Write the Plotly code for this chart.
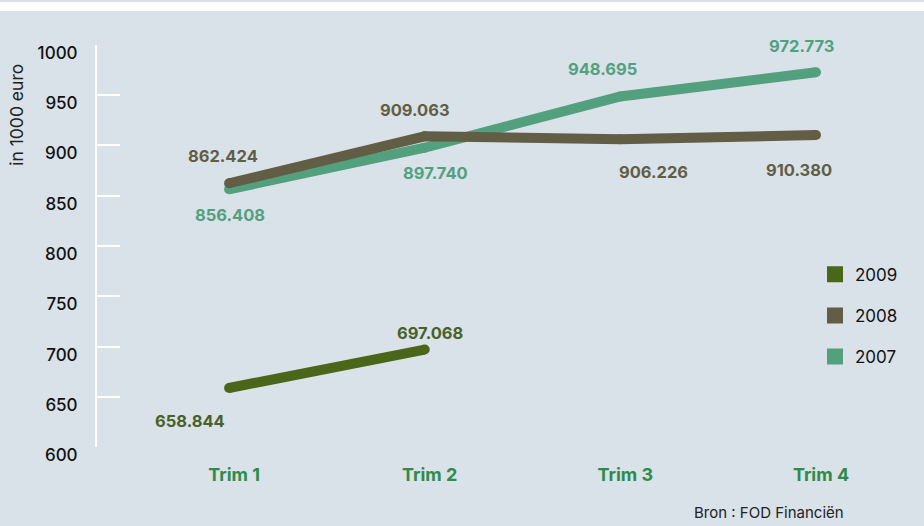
import plotly.graph_objects as go

quarters = ["Trim 1", "Trim 2", "Trim 3", "Trim 4"]
years = ["2007", "2008", "2009"]
values_2007 = [856.408, 897.740, 948.695, 972.773]
values_2008 = [862.424, 909.063, 906.226, 910.380]
values_2009 = [658.844, 697.068]
y_ticks = [600, 650, 700, 750, 800, 850, 900, 950, 1000]

series = {"2007": values_2007, "2008": values_2008, "2009": values_2009}
colors = {"2007": "#53a07f", "2008": "#625d45", "2009": "#4a6619"}
label_colors = {"2007": "#53a07f", "2008": "#625d45", "2009": "#48602a"}
# label offsets in reference pixels (dx, dy) per point
offsets = {
    "2007": [(1, 25), (11, 24), (-18, -27), (-15, -25)],
    "2008": [(-6, -26), (-10, -25), (33, 32), (-17, 34)],
    "2009": [(-39, 32), (5, -16)],
}

W = 924
REF_H = 526
H = 545
S = H / REF_H  # vertical pixel scale
BG = "#d9e2e9"
fig = go.Figure()

for yr in years:
    vals = series[yr]
    fig.add_trace(go.Scatter(
        x=quarters[:len(vals)], y=vals, mode="lines+markers",
        line=dict(color=colors[yr], width=10),
        marker=dict(color=colors[yr], size=10),
        showlegend=False, hoverinfo="skip", cliponaxis=False,
    ))

for yr in ["2009", "2008", "2007"]:
    fig.add_trace(go.Scatter(
        x=[None], y=[None], mode="markers", name=yr,
        marker=dict(symbol="square", size=22, color=colors[yr]),
        legendgroup=yr, showlegend=True,
    ))

annotations = []
for yr in years:
    for q, v, (dx, dy) in zip(quarters, series[yr], offsets[yr]):
        annotations.append(dict(
            x=q, y=v, xref="x", yref="y", text=f"{v:.3f}",
            showarrow=False, xshift=dx, yshift=-dy * S,
            font=dict(family="Inter", size=16.5, color=label_colors[yr], weight="bold"),
        ))

annotations.append(dict(
    x=17 / W, y=1 - 113 / REF_H, xref="paper", yref="paper", text="in 1000 euro",
    textangle=-90, showarrow=False, xanchor="center", yanchor="middle",
    font=dict(family="Inter", size=17.5, color="#222222"),
))
annotations.append(dict(
    x=846 / W, y=1 - 511 / REF_H, xref="paper", yref="paper", text="Bron : FOD Financiën",
    showarrow=False, xanchor="right", yanchor="middle",
    font=dict(family="Inter", size=15, color="#222222"),
))

fig.update_layout(
    width=W, height=H, autosize=False,
    margin=dict(l=0, r=0, t=0, b=0),
    paper_bgcolor=BG, plot_bgcolor="rgba(0,0,0,0)",
    shapes=[dict(type="rect", xref="paper", yref="paper", x0=0, x1=1,
                 y0=1 - 9 / REF_H, y1=1, fillcolor="white", line=dict(width=0), layer="below")],
    annotations=annotations,
    legend=dict(
        x=815 / W, y=1 - 264.5 / H, xanchor="left", yanchor="top",
        bgcolor="rgba(0,0,0,0)", font=dict(family="Inter", size=17, color="#111111"),
        tracegroupgap=16, traceorder="grouped", itemsizing="trace",
    ),
    xaxis=dict(
        type="category", categoryorder="array", categoryarray=quarters,
        domain=[97 / W, 1.0], range=[-0.675, 3.552],
        showline=False, showgrid=False, zeroline=False, ticks="",
        tickfont=dict(family="Inter", size=18, color="#2e8b4a", weight="bold"),
        ticklabelstandoff=15, ticklabelshift=5,
    ),
    yaxis=dict(
        domain=[1 - 446 / REF_H, 1 - 43 / REF_H], range=[600, 1000],
        tickvals=y_ticks, showgrid=False, zeroline=False,
        showline=True, linecolor="white", linewidth=2,
        ticks="inside", ticklen=23, tickcolor="white", tickwidth=2,
        tickfont=dict(family="Inter", size=17, color="#111111", weight=500),
        ticklabelshift=8, ticklabelstandoff=14,
    ),
)

page_fix = (
    "document.body.style.margin='0px';"
    "document.body.style.background='" + BG + "';"
)

fig.write_html(
    "out.html",
    config={"displayModeBar": False, "responsive": False},
    post_script=page_fix,
)
